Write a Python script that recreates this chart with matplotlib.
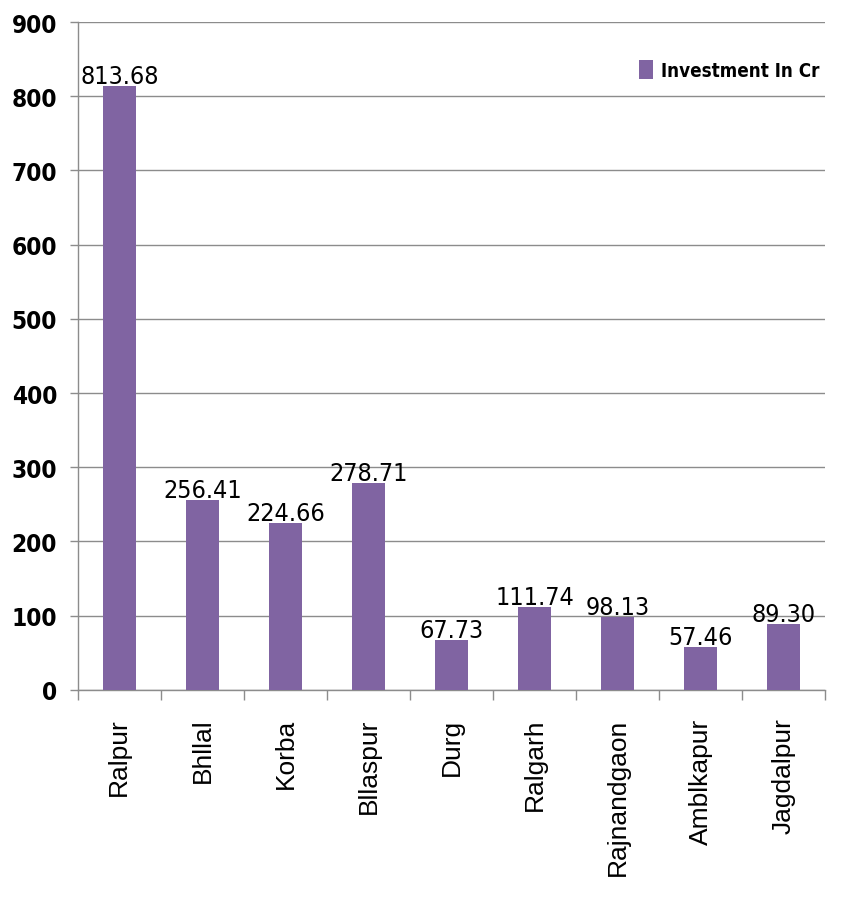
import matplotlib
matplotlib.use("Agg")
import matplotlib.pyplot as plt
import numpy as np

cities = ["Ralpur", "Bhllal", "Korba", "Bllaspur", "Durg", "Ralgarh",
          "Rajnandgaon", "Amblkapur", "Jagdalpur"]
investment = [813.68, 256.41, 224.66, 278.71, 67.73, 111.74, 98.13, 57.46, 89.30]
value_labels = ["813.68", "256.41", "224.66", "278.71", "67.73", "111.74",
                "98.13", "57.46", "89.30"]
yticks = [0, 100, 200, 300, 400, 500, 600, 700, 800, 900]
series_name = "Investment In Cr"

fig = plt.figure(figsize=(8.65, 9.03), dpi=100)
ax = fig.add_axes([0.090, 0.235, 0.864, 0.7395])

x = np.arange(len(cities))
ax.bar(x, investment, width=0.4, color="#8064A2", zorder=3, label=series_name)

for xi, v, lab in zip(x, investment, value_labels):
    ax.text(xi, v - 3, lab, ha="center", va="bottom", fontsize=18,
            family="DejaVu Sans", fontstretch="condensed", color="black", zorder=4)

ax.set_ylim(0, 900)
ax.set_xlim(-0.5, len(cities) - 0.5)
ax.set_yticks(yticks)
ax.set_yticklabels([str(t) for t in yticks], family="DejaVu Sans",
                   fontstretch="condensed", fontweight="bold", fontsize=17.5)
ax.yaxis.grid(True, color="#8c8c8c", linewidth=1.0, zorder=0)
ax.set_axisbelow(True)

ax.set_xticks(x)
ax.set_xticklabels(cities, rotation=90, fontsize=19, family="Liberation Sans", va="top")
ax.tick_params(axis="x", length=0, pad=20)
ax.set_xticks(np.arange(-0.5, len(cities), 1), minor=True)
ax.tick_params(axis="x", which="minor", length=7, color="#8c8c8c", width=1)
ax.tick_params(axis="y", length=6, color="#8c8c8c", width=1, pad=9)

for s in ["top", "right"]:
    ax.spines[s].set_visible(False)
for s in ["left", "bottom"]:
    ax.spines[s].set_color("#8c8c8c")
    ax.spines[s].set_linewidth(1.0)

ax.legend(loc="upper right", bbox_to_anchor=(1.015, 0.968), frameon=False,
          handlelength=0.75, handleheight=1.2, handletextpad=0.45,
          prop={"family": "DejaVu Sans", "stretch": "condensed", "weight": "bold", "size": 13.5})

fig.savefig("out.png", dpi=100)
